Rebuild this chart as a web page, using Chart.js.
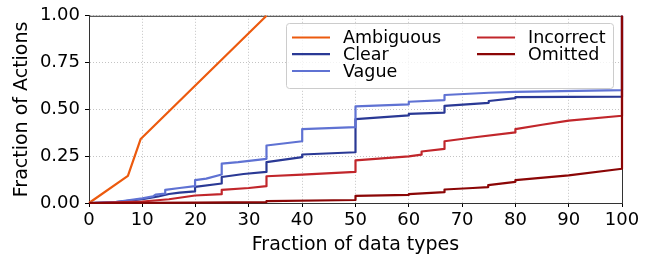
<!DOCTYPE html>
<html>
<head>
<meta charset="utf-8">
<script src="https://cdn.jsdelivr.net/npm/chart.js@4.4.0/dist/chart.umd.min.js"></script>
<style>
  html, body { margin: 0; padding: 0; background: #fff; }
  #chart { display: block; }
</style>
</head>
<body>
<canvas id="chart" width="653" height="259"></canvas>
<script>
// data (x = % of data types, y = fraction of actions)

const seriesNames = ['Ambiguous', 'Clear', 'Vague', 'Incorrect', 'Omitted'];

const ambiguousX = [0, 7.3, 9.7, 33.3];
const ambiguousY = [0, 0.145, 0.342, 1.0];

const clearX = [0, 5, 10, 13, 15, 17, 19.9, 19.9, 24.9, 24.9, 29, 33.3, 33.3, 40, 40, 50, 50, 60, 60, 66.7, 66.7, 75, 75, 80, 80, 100, 100];
const clearY = [0, 0.005, 0.02, 0.035, 0.048, 0.055, 0.062, 0.086, 0.104, 0.139, 0.155, 0.166, 0.218, 0.245, 0.259, 0.271, 0.448, 0.468, 0.476, 0.483, 0.519, 0.535, 0.545, 0.560, 0.566, 0.568, 1.0];

const vagueX = [0, 5, 10, 12, 12.5, 14.3, 14.3, 17, 19.9, 19.9, 22, 24.9, 24.9, 28, 33.3, 33.3, 40, 40, 50, 50, 60, 60, 66.7, 66.7, 75, 80, 100, 100];
const vagueY = [0, 0.005, 0.025, 0.035, 0.045, 0.05, 0.07, 0.08, 0.09, 0.122, 0.13, 0.152, 0.21, 0.218, 0.236, 0.307, 0.33, 0.395, 0.405, 0.516, 0.527, 0.541, 0.55, 0.577, 0.589, 0.594, 0.603, 1.0];

const incorrectX = [0, 10, 15, 19.9, 24.9, 24.9, 30, 33.3, 33.3, 40, 50, 50, 60, 62.4, 62.4, 66.7, 66.7, 72, 80, 80, 85, 90, 100, 100];
const incorrectY = [0, 0.008, 0.02, 0.04, 0.047, 0.07, 0.08, 0.09, 0.143, 0.152, 0.166, 0.228, 0.249, 0.258, 0.275, 0.289, 0.33, 0.35, 0.377, 0.395, 0.418, 0.44, 0.466, 1.0];

const omittedX = [0, 20, 33.3, 33.3, 50, 50, 60, 60, 66.7, 66.7, 72, 74.9, 74.9, 80, 80, 90, 100, 100];
const omittedY = [0, 0.002, 0.005, 0.01, 0.016, 0.038, 0.043, 0.047, 0.058, 0.072, 0.08, 0.085, 0.095, 0.113, 0.122, 0.148, 0.183, 1.0];

const xTicks = [0, 10, 20, 30, 40, 50, 60, 70, 80, 90, 100];
const yTicks = [0, 0.25, 0.5, 0.75, 1.0];

// styles
const seriesColors = ['#ec5a0e', '#2a3995', '#5f72d3', '#c1262b', '#8b0606'];
const seriesX = [ambiguousX, clearX, vagueX, incorrectX, omittedX];
const seriesY = [ambiguousY, clearY, vagueY, incorrectY, omittedY];

const datasets = seriesNames.map((name, i) => ({
    label: name,
    data: seriesX[i].map((x, j) => ({ x: x, y: seriesY[i][j] })),
    borderColor: seriesColors[i],
    backgroundColor: seriesColors[i],
    borderWidth: 2.2,
    pointRadius: 0,
    tension: 0,
    fill: false,
    clip: 3,
    borderJoinStyle: 'round',
    order: seriesNames.length - i   // later series drawn on top, like matplotlib
}));

// top + right spines
const spines = {
    id: 'spines',
    beforeDatasetsDraw(chart) {
        const { ctx, chartArea: a } = chart;
        ctx.save();
        ctx.strokeStyle = '#333';
        ctx.lineWidth = 1;
        ctx.beginPath();
        ctx.moveTo(a.left, a.top + 0.5);
        ctx.lineTo(a.right + 0.5, a.top + 0.5);
        ctx.lineTo(a.right + 0.5, a.bottom);
        ctx.stroke();
        ctx.restore();
    }
};

// two-column legend, column-major like matplotlib ncol=2
const boxLegend = {
    id: 'boxLegend',
    afterDraw(chart) {
        const ctx = chart.ctx;
        const bx = 286, by = 23, bw = 327, bh = 65;
        ctx.save();
        ctx.fillStyle = 'rgba(255,255,255,0.8)';
        ctx.strokeStyle = '#cccccc';
        ctx.lineWidth = 1;
        ctx.beginPath();
        ctx.roundRect(bx + 0.5, by + 0.5, bw, bh, 3);
        ctx.fill();
        ctx.stroke();

        const cols = [[0, 1, 2], [3, 4]];
        const lineX = [292, 477];
        const rowY = [37.5, 54.2, 71];
        ctx.font = '17.5px "DejaVu Sans"';
        ctx.textBaseline = 'middle';
        ctx.fillStyle = '#000';
        cols.forEach((col, c) => {
            col.forEach((idx, r) => {
                const y = rowY[r];
                ctx.strokeStyle = seriesColors[idx];
                ctx.lineWidth = 2.2;
                ctx.beginPath();
                ctx.moveTo(lineX[c], y);
                ctx.lineTo(lineX[c] + 38, y);
                ctx.stroke();
                ctx.fillText(seriesNames[idx], lineX[c] + 51, y + 1);
            });
        });
        ctx.restore();
    }
};

const gridOpts = {
    color: '#c4c4c4',
    lineWidth: 1,
    tickColor: '#000',
    tickLength: 4,
    tickWidth: 1,
    tickBorderDash: []
};
const borderOpts = { color: '#333', width: 1, dash: [1, 2] };

const ctx = document.getElementById('chart').getContext('2d');
const myChart = new Chart(ctx, {
    type: 'line',
    data: { datasets: datasets },
    options: {
        responsive: false,
        animation: false,
        devicePixelRatio: 1,
        layout: { padding: { top: 14, right: 31, left: 0, bottom: 0 } },
        plugins: {
            legend: { display: false },
            tooltip: { enabled: false }
        },
        scales: {
            x: {
                type: 'linear',
                min: 0,
                max: 100,
                afterBuildTicks: s => { s.ticks = xTicks.map(v => ({ value: v })); },
                afterFit: s => { s.height = 56; },
                ticks: {
                    color: '#000',
                    font: { family: 'DejaVu Sans', size: 18 },
                    padding: 3,
                    maxRotation: 0,
                    autoSkip: false
                },
                grid: gridOpts,
                border: borderOpts,
                title: {
                    display: true,
                    text: 'Fraction of data types',
                    color: '#000',
                    font: { family: 'DejaVu Sans', size: 19 },
                    padding: { top: 0, bottom: 3 }
                }
            },
            y: {
                type: 'linear',
                min: 0,
                max: 1,
                afterBuildTicks: s => { s.ticks = yTicks.map(v => ({ value: v })); },
                afterFit: s => { s.width = 89; },
                ticks: {
                    color: '#000',
                    font: { family: 'DejaVu Sans', size: 18 },
                    padding: 5,
                    callback: v => v.toFixed(2)
                },
                grid: gridOpts,
                border: borderOpts,
                title: {
                    display: true,
                    text: 'Fraction of Actions',
                    color: '#000',
                    font: { family: 'DejaVu Sans', size: 19 },
                    padding: { top: 11, bottom: 0 }
                }
            }
        }
    },
    plugins: [spines, boxLegend]
});
</script>
</body>
</html>
